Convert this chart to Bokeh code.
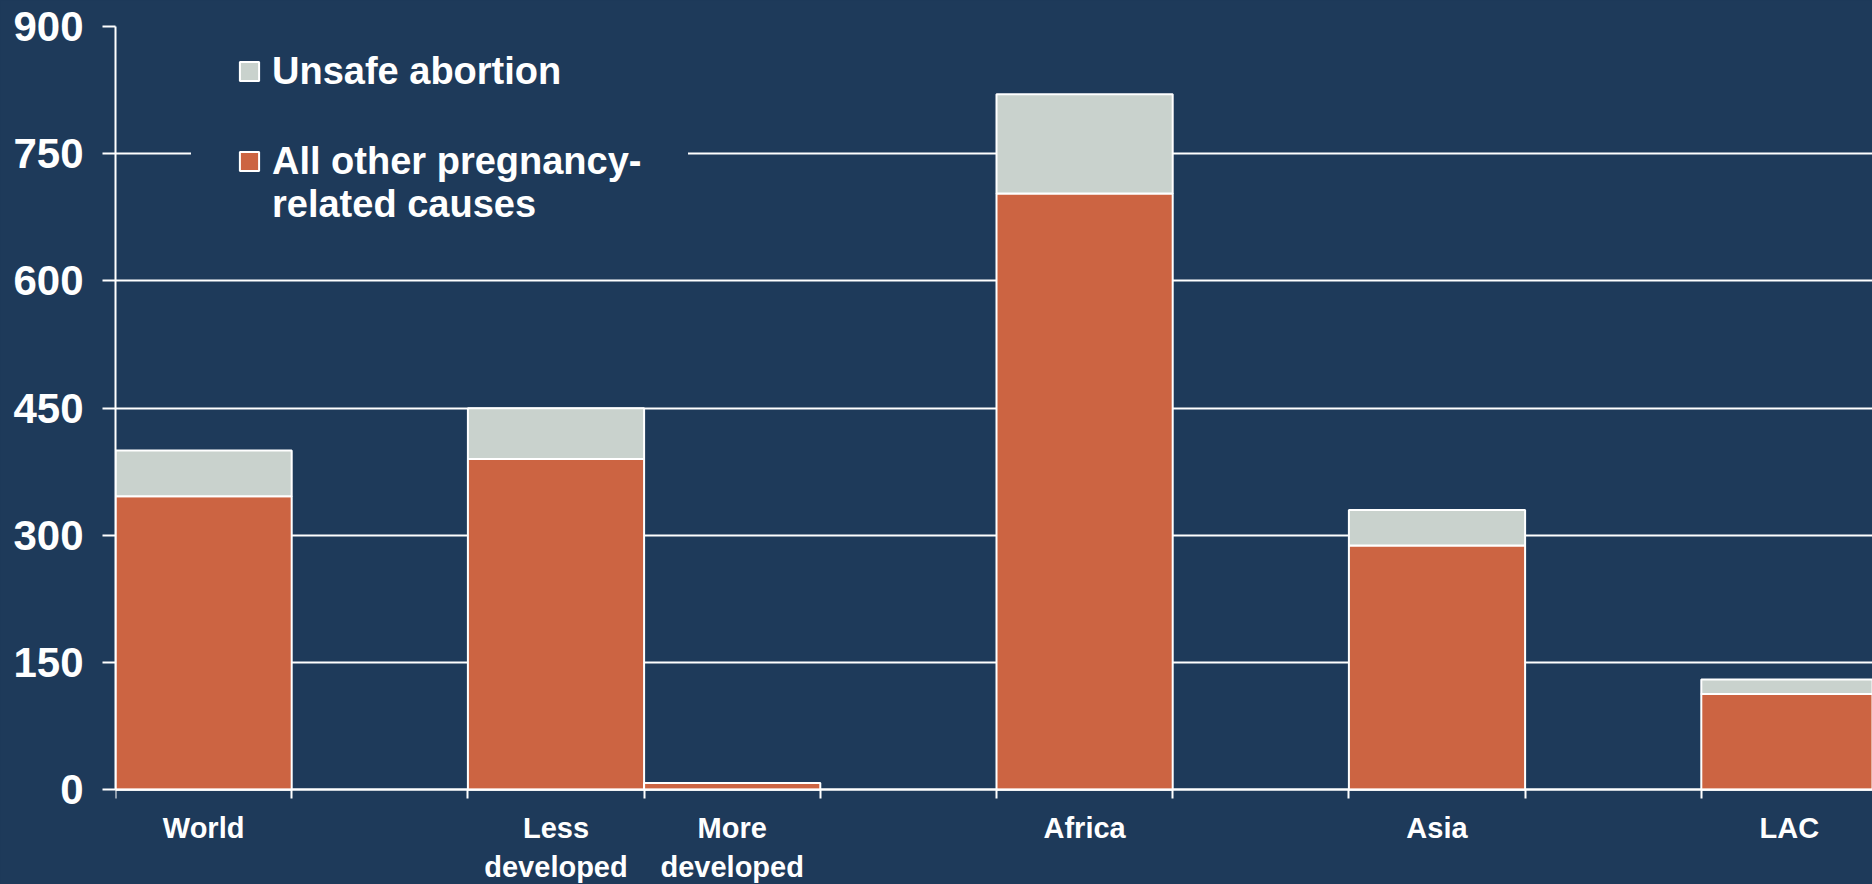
from bokeh.plotting import figure
from bokeh.models import Range1d, FixedTicker, Legend, LegendItem, ColumnDataSource
from bokeh.embed import file_html
from bokeh.resources import INLINE

# ---- data ----
categories = ["World", "Less developed", "More developed", "Africa", "Asia", "LAC"]
other_causes = [346, 390, 8, 703, 288, 113]
unsafe_abortion = [54, 60, 0, 117, 42, 17]
y_ticks = [0, 150, 300, 450, 600, 750, 900]
tick_labels = ["World", "Less\ndeveloped", "More\ndeveloped", "Africa", "Asia", "LAC"]
# category order on the axis, "" marks an empty slot
axis_order = ["World", "", "Less developed", "More developed", "", "Africa", "", "Asia", "", "LAC"]

BG = "#1E3A5A"
ORANGE = "#CC6442"
GRAY = "#C9D2CD"
FONT = "Liberation Sans"

xs = [axis_order.index(c) + 0.5 for c in categories]
src = ColumnDataSource(dict(x=xs, other=other_causes, unsafe=unsafe_abortion))

W, H = 1872, 884
left, top = 115, 26
px_per_unit = (789.3 - 26.0) / 900.0
frame_h = H - top
y_start = 900 - frame_h / px_per_unit
slot_px = 176.2
x_end = (W - left) / slot_px

p = figure(width=W, height=H, output_backend="svg", toolbar_location=None,
           x_range=Range1d(0, x_end), y_range=Range1d(y_start, 900),
           min_border_left=left, min_border_top=top, min_border_bottom=0, min_border_right=0)
p.background_fill_color = BG
p.border_fill_color = BG
p.outline_line_color = None

rs = p.vbar_stack(["other", "unsafe"], x="x", width=1.0, source=src,
                  fill_color=[ORANGE, GRAY], line_color="white", line_width=2)
# renderer with no data, used only for the second line of a legend label
blank = p.vbar(x=[], top=[], width=1.0, fill_color=None, line_color=None)

# y axis
p.yaxis.ticker = FixedTicker(ticks=y_ticks)
p.yaxis.bounds = (0, 900)
p.yaxis.axis_line_color = "white"
p.yaxis.axis_line_width = 2
p.yaxis.major_tick_line_color = "white"
p.yaxis.major_tick_line_width = 2
p.yaxis.major_tick_out = 13
p.yaxis.major_tick_in = 0
p.yaxis.minor_tick_line_color = None
p.yaxis.major_label_text_color = "white"
p.yaxis.major_label_text_font = FONT
p.yaxis.major_label_text_font_style = "bold"
p.yaxis.major_label_text_font_size = "42px"
p.yaxis.major_label_standoff = 19

# x axis
p.xaxis.fixed_location = 0
p.xaxis.ticker = FixedTicker(ticks=xs, minor_ticks=list(range(len(axis_order))))
p.xaxis.major_label_overrides = {x: lab for x, lab in zip(xs, tick_labels)}
p.xaxis.axis_line_color = "white"
p.xaxis.axis_line_width = 2
p.xaxis.major_tick_line_color = None
p.xaxis.major_tick_out = 0
p.xaxis.major_tick_in = 0
p.xaxis.minor_tick_line_color = "white"
p.xaxis.minor_tick_line_width = 2
p.xaxis.minor_tick_out = 9
p.xaxis.minor_tick_in = 0
p.xaxis.major_label_text_color = "white"
p.xaxis.major_label_text_font = FONT
p.xaxis.major_label_text_font_style = "bold"
p.xaxis.major_label_text_font_size = "29px"
p.xaxis.major_label_text_line_height = 1.22
p.xaxis.major_label_standoff = 13

p.xgrid.visible = False
p.ygrid.ticker = FixedTicker(ticks=y_ticks)
p.ygrid.grid_line_color = "white"
p.ygrid.grid_line_width = 2


def styled_legend(items, loc, pad):
    lg = Legend(items=items, location=loc)
    lg.background_fill_color = BG
    lg.background_fill_alpha = 1.0
    lg.border_line_color = BG
    lg.border_line_alpha = 1.0
    lg.border_line_width = 1
    lg.padding = pad
    lg.spacing = 0
    lg.margin = 0
    lg.glyph_width = 24
    lg.glyph_height = 24
    lg.label_standoff = 11
    lg.label_height = 43
    lg.label_text_color = "white"
    lg.label_text_font = FONT
    lg.label_text_font_style = "bold"
    lg.label_text_font_size = "38px"
    lg.label_text_line_height = 1.1
    return lg


legend_a = styled_legend([LegendItem(label="Unsafe abortion", renderers=[rs[1]])],
                         (101, 884 - 113.5), 20)
legend_b = styled_legend([LegendItem(label="All other pregnancy-", renderers=[rs[0]]),
                          LegendItem(label="related causes", renderers=[blank])],
                         (76, 884 - 271.5), 45)
p.add_layout(legend_a)
p.add_layout(legend_b)

html = file_html(p, INLINE)
html = html.replace("<head>", "<head><style>html,body{background:#1E3A5A;}</style>", 1)
open("out.html", "w").write(html)
